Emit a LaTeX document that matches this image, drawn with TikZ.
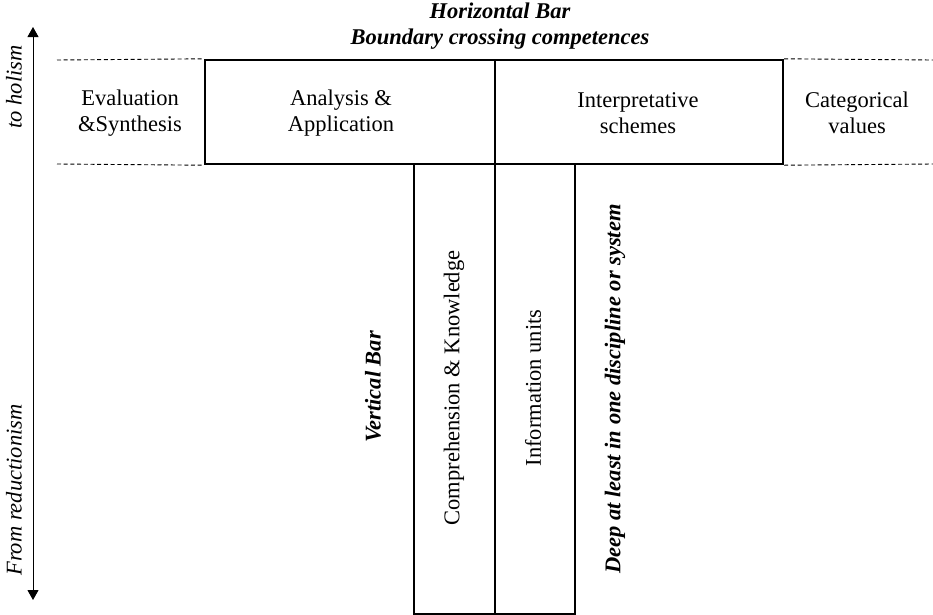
\documentclass[tikz,border=0pt]{standalone}
\usepackage{fontspec}
\setmainfont{Liberation Serif}
\usetikzlibrary{arrows.meta,positioning}

\begin{document}
\begin{tikzpicture}[x=1pt, y=-1pt,
  bar/.style={draw, line width=2.4pt, inner sep=0pt},
  guide/.style={dashed, dash pattern=on 4pt off 2.7pt, line width=0.9pt},
  txt/.style={align=center, font=\fontsize{22.5}{26}\selectfont, inner sep=0pt},
  vtxt/.style={txt, rotate=90},
  ttl/.style={txt, font=\fontsize{22.5}{26}\selectfont\bfseries\itshape},
  axis/.style={{Triangle[length=10pt,width=11pt]}-{Triangle[length=10pt,width=11pt]}, line width=1pt},
]
\useasboundingbox (0,0) rectangle (933,614);

% horizontal bar
\node[bar, minimum width=290pt, minimum height=104pt] (ana) at (350,112) {};
\node[bar, minimum width=288pt, minimum height=104pt] (int) at (639,112) {};
% vertical bar
\node[bar, minimum width=81pt, minimum height=450pt] (comp) at (454.5,389) {};
\node[bar, minimum width=80pt, minimum height=450pt] (info) at (535,389) {};

\node[ttl] (title) at (500,26) {Horizontal Bar\\Boundary crossing competences};

% dashed guides
\coordinate (gl1) at (57,60);
\coordinate (gl2) at (57,164);
\coordinate (gr1) at (933,60);
\coordinate (gr2) at (933,164);
\draw[guide] (gl1) -- (ana.north west);
\draw[guide] (gl2) -- (ana.south west);
\draw[guide] (int.north east) -- (gr1);
\draw[guide] (int.south east) -- (gr2);

% labels
\node[txt] (eval) at (130,113) {Evaluation\\\&Synthesis};
\node[txt] (anaT) at (341,113) {Analysis \&\\Application};
\node[txt] (intT) at (638,113) {Interpretative\\schemes};
\node[txt] (cat) at (857,113) {Categorical\\values};

\node[vtxt] (compT) at (454,388) {Comprehension \& Knowledge};
\node[vtxt] (infoT) at (533,388) {Information units};
\node[vtxt, font=\fontsize{22.5}{26}\selectfont\bfseries\itshape] (vbar) at (373,387) {Vertical Bar};
\node[vtxt, font=\fontsize{22.5}{26}\selectfont\bfseries\itshape] (deep) at (615,389) {Deep at least in one discipline or system};

% reductionism -- holism axis
\coordinate (top) at (33,27);
\coordinate (bot) at (33,600);
\draw[axis] (bot) -- (top);
\node[vtxt, font=\fontsize{22.5}{26}\selectfont\itshape] (hol) at (14,87) {to holism};
\node[vtxt, font=\fontsize{22.5}{26}\selectfont\itshape] (red) at (14,490) {From reductionism};
\end{tikzpicture}
\end{document}
